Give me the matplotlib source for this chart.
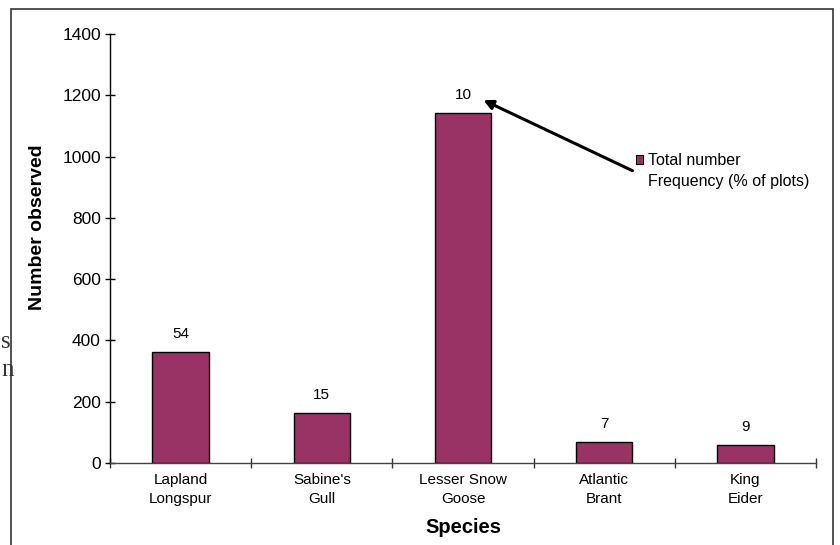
import matplotlib
matplotlib.use("Agg")
import matplotlib.pyplot as plt
from matplotlib.patches import Patch, Rectangle
import numpy as np

categories = ["Lapland\nLongspur", "Sabine's\nGull", "Lesser Snow\nGoose", "Atlantic\nBrant", "King\nEider"]
total_number = [362, 163, 1142, 69, 58]
frequency = [54, 15, 10, 7, 9]
y_ticks = [0, 200, 400, 600, 800, 1000, 1200, 1400]

plt.rcParams['font.family'] = ['Liberation Sans', 'DejaVu Sans']

fig = plt.figure(figsize=(8.4, 5.45), dpi=100)
# outer frame of the embedded chart
fig.patches.append(Rectangle((11/840, -0.05), (833-11)/840, 1.05 - 9/545,
                             transform=fig.transFigure, fill=False,
                             edgecolor='#333333', linewidth=1.2))
# cut-off document text behind the chart
fig.text(1/840, 1-342/545, "s", family='Liberation Serif', fontsize=18, va='center', ha='left', color='#333333')
fig.text(1/840, 1-370/545, "n", family='Liberation Serif', fontsize=18, va='center', ha='left', color='#333333')

ax = fig.add_axes([110/840, 1-463/545, (816-110)/840, (463-34)/545])
x = np.arange(len(categories))
bars = ax.bar(x, total_number, width=0.4, color='#993366', edgecolor='black', linewidth=1.0)

for xi, v, f in zip(x, total_number, frequency):
    ax.annotate(str(f), (xi, v), xytext=(0, 13), textcoords='offset points',
                ha='center', va='center', fontsize=11)

ax.set_xlim(-0.5, len(categories) - 0.5)
ax.set_ylim(0, 1400)
ax.set_yticks(y_ticks)
ax.set_xticks(x)
ax.set_xticklabels(categories, fontsize=11, linespacing=1.4)
ax.set_xticks(np.arange(-0.5, len(categories)), minor=True)
ax.tick_params(axis='x', which='major', length=0, pad=7.5)
ax.tick_params(axis='x', which='minor', direction='inout', length=7, width=1, color='#333333')
ax.tick_params(axis='y', direction='inout', length=7, width=1, labelsize=12.5, pad=3)
for s in ['top', 'right']:
    ax.spines[s].set_visible(False)
ax.spines['left'].set_color('black')
ax.spines['bottom'].set_color('#444444')
ax.spines['left'].set_linewidth(1.0)
ax.spines['bottom'].set_linewidth(1.0)

ax.set_ylabel("Number observed", fontsize=14, fontweight='bold')
ax.yaxis.set_label_coords((46-110)/706, (463-227)/429)
ax.set_xlabel("Species", fontsize=14.5, fontweight='bold')
ax.xaxis.set_label_coords(0.5, -(518-463)/429)

ax.annotate("", xy=(2.127, 1188), xytext=(3.218, 950),
            arrowprops=dict(arrowstyle='-|>', color='black', lw=2.2, mutation_scale=14))

handles = [Patch(facecolor='#993366', edgecolor='black', linewidth=0.8),
           Patch(facecolor='none', edgecolor='none')]
fig.legend(handles, ["Total number", "Frequency (% of plots)"],
           loc='upper left', bbox_to_anchor=(636/840, 1-153/545), frameon=False,
           fontsize=11.5, handlelength=0.45, handleheight=0.45, handletextpad=0.3,
           labelspacing=0.35, borderpad=0, borderaxespad=0)

fig.savefig("out.png", dpi=100)
